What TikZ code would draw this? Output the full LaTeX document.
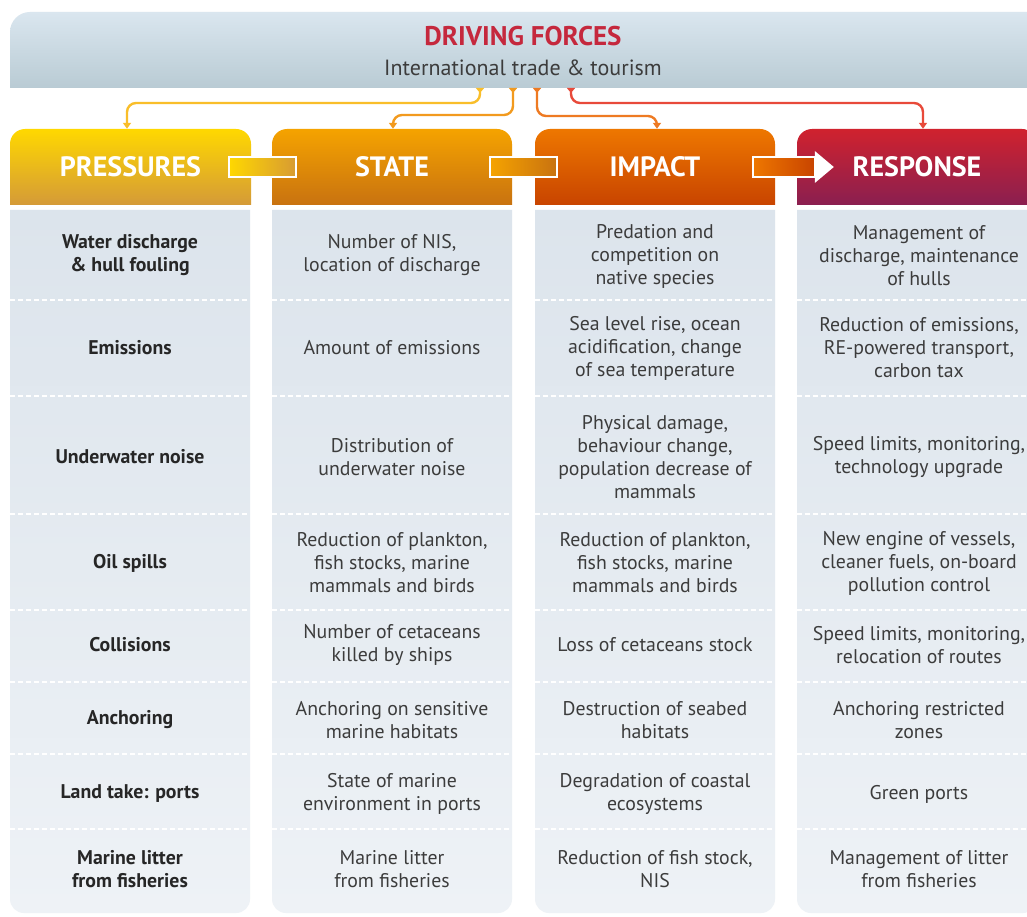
\documentclass[tikz,border=0pt]{standalone}
\usepackage{fontspec}
\setmainfont{PT Sans}
\usetikzlibrary{calc,arrows.meta}
\definecolor{bannerTop}{HTML}{DAE6EF}
\definecolor{bannerBot}{HTML}{B9CBD4}
\definecolor{presTop}{HTML}{FFD800}
\definecolor{presBot}{HTML}{D49A38}
\definecolor{stateTop}{HTML}{F5A300}
\definecolor{stateBot}{HTML}{C87210}
\definecolor{impTop}{HTML}{EE7700}
\definecolor{impBot}{HTML}{C84400}
\definecolor{respTop}{HTML}{D0222E}
\definecolor{respBot}{HTML}{8A1F50}
\definecolor{bodyTop}{HTML}{DCE4EC}
\definecolor{bodyBot}{HTML}{EEF2F6}
\definecolor{cA}{HTML}{F9BE2A}
\definecolor{cB}{HTML}{F29A1E}
\definecolor{cC}{HTML}{EE7A22}
\definecolor{cD}{HTML}{E84A3A}
\definecolor{titleRed}{HTML}{C5283D}
\definecolor{txt}{HTML}{3C3C3C}
\newcommand\hdrbox[4]{%
  \path[top color=#3, middle color=#3, bottom color=#4]
    (#1,205) [rounded corners=15] -- (#1,129) -- (#2,129) [sharp corners] -- (#2,205) -- cycle;}
\newcommand\bodycol[2]{%
  \path[top color=bodyTop, bottom color=bodyBot]
    (#1,210) [rounded corners=14] -- (#1,913) -- (#2,913) [sharp corners] -- (#2,210) -- cycle;
  \foreach \yy in {300,396,514,610,682,754,829}
    \draw[sepline] (#1,\yy) -- (#2,\yy);}
\begin{document}
\begin{tikzpicture}[x=1pt,y=-1pt,
  sepline/.style={white, line width=1.4pt, dash pattern=on 5pt off 3pt},
  hdrtext/.style={text=white, font=\bfseries\fontsize{28}{32}\selectfont, inner sep=0pt,
      minimum width=240pt, minimum height=76pt},
  cell/.style={align=center, text=txt, font=\fontsize{19.8}{23}\selectfont, inner sep=0pt},
  pcell/.style={cell, text=black!85, font=\bfseries\fontsize{19.8}{23}\selectfont},
  link/.style={draw=white, line width=1.8pt},
  conn/.style={draw=#1, line width=2.4pt, rounded corners=9pt,
      {Triangle[reversed,width=8pt,length=5pt,#1]}-{Triangle[width=8pt,length=6pt,#1]}}
]
\useasboundingbox (0,0) rectangle (1027,917);
\clip (0,0) rectangle (1027,917);
\fill[white] (0,0) rectangle (1027,917);

% banner
\path[top color=bannerTop, bottom color=bannerBot]
  (10,88) [rounded corners=20] -- (10,12) -- (1047,12) [sharp corners] -- (1047,88) -- cycle;
\node[inner sep=0pt, minimum width=1037pt, minimum height=76pt] (drv) at (528.5,50) {};
\node[text=titleRed, font=\bfseries\fontsize{27}{30}\selectfont] (drvt) at (523,36) {DRIVING FORCES};
\node[text=txt, font=\fontsize{22}{26}\selectfont] (drvs) at (523,68) {International trade \& tourism};

% header boxes
\hdrbox{10}{251}{presTop}{presBot}
\hdrbox{272}{512}{stateTop}{stateBot}
\hdrbox{535}{775}{impTop}{impBot}
\hdrbox{797}{1037}{respTop}{respBot}

\node[hdrtext] (pres)   at (130.5,167) {PRESSURES};
\node[hdrtext] (state)  at (392,167) {STATE};
\node[hdrtext] (impact) at (655,167) {IMPACT};
\node[hdrtext] (resp)   at (917,167) {RESPONSE};

% links between headers
\draw[link, left color=presTop, right color=presBot!90!stateTop]
  ($(pres.east)+(-22,-10)$) rectangle ($(state.west)+(24,10)$);
\draw[link, left color=stateTop, right color=stateBot]
  ($(state.east)+(-22,-10)$) rectangle ($(impact.west)+(22,10)$);
\draw[link, left color=impTop, right color=impBot]
  ($(impact.east)+(-22,-10)$) rectangle ($(resp.west)+(18,10)$);
\fill[white] ($(resp.west)+(18,-16)$) -- ($(resp.west)+(37,0)$) -- ($(resp.west)+(18,16)$) -- cycle;

% connectors from driving forces
\coordinate (d1) at (480,88);
\coordinate (d2) at (513,88);
\coordinate (d3) at (537,88);
\coordinate (d4) at (571,88);
\draw[conn=cA] (d1) -- ++(0,15) -| ($(pres.north)+(-3.5,0)$);
\draw[conn=cB] (d2) -- ++(0,27) -| ($(state.north)+(1,0)$);
\draw[conn=cC] (d3) -- ++(0,28) -| ($(impact.north)+(2,0)$);
\draw[conn=cD] (d4) -- ++(0,15) -| ($(resp.north)+(6,0)$);

% body columns
\bodycol{10}{250}
\bodycol{272}{512}
\bodycol{535}{775}
\bodycol{797}{1037}

% PRESSURES
\node[pcell] (p1) at (130,255) {Water discharge\\\& hull fouling};
\node[pcell] (p2) at (130,348) {Emissions};
\node[pcell] (p3) at (130,457) {Underwater noise};
\node[pcell] (p4) at (130,563) {Oil spills};
\node[pcell] (p5) at (130,645) {Collisions};
\node[pcell] (p6) at (130,720) {Anchoring};
\node[pcell] (p7) at (130,794) {Land take: ports};
\node[pcell] (p8) at (130,869) {Marine litter\\from fisheries};

% STATE
\node[cell] (s1) at (392,255) {Number of NIS,\\location of discharge};
\node[cell] (s2) at (392,348) {Amount of emissions};
\node[cell] (s3) at (392,457) {Distribution of\\underwater noise};
\node[cell] (s4) at (392,563) {Reduction of plankton,\\fish stocks, marine\\mammals and birds};
\node[cell] (s5) at (392,645) {Number of cetaceans\\killed by ships};
\node[cell] (s6) at (392,720) {Anchoring on sensitive\\marine habitats};
\node[cell] (s7) at (392,794) {State of marine\\environment in ports};
\node[cell] (s8) at (392,869) {Marine litter\\from fisheries};

% IMPACT
\node[cell] (i1) at (655,256) {Predation and\\competition on\\native species};
\node[cell] (i2) at (655,348) {Sea level rise, ocean\\acidification, change\\of sea temperature};
\node[cell] (i3) at (655,457) {Physical damage,\\behaviour change,\\population decrease of\\mammals};
\node[cell] (i4) at (655,563) {Reduction of plankton,\\fish stocks, marine\\mammals and birds};
\node[cell] (i5) at (655,645) {Loss of cetaceans stock};
\node[cell] (i6) at (655,720) {Destruction of seabed\\habitats};
\node[cell] (i7) at (655,794) {Degradation of coastal\\ecosystems};
\node[cell] (i8) at (655,869) {Reduction of fish stock,\\NIS};

% RESPONSE
\node[cell] (r1) at (919,256) {Management of\\discharge, maintenance\\of hulls};
\node[cell] (r2) at (919,348) {Reduction of emissions,\\RE-powered transport,\\carbon tax};
\node[cell] (r3) at (919,457) {Speed limits, monitoring,\\technology upgrade};
\node[cell] (r4) at (919,563) {New engine of vessels,\\cleaner fuels, on-board\\pollution control};
\node[cell] (r5) at (919,645) {Speed limits, monitoring,\\relocation of routes};
\node[cell] (r6) at (919,720) {Anchoring restricted\\zones};
\node[cell] (r7) at (919,794) {Green ports};
\node[cell] (r8) at (919,869) {Management of litter\\from fisheries};
\end{tikzpicture}
\end{document}
